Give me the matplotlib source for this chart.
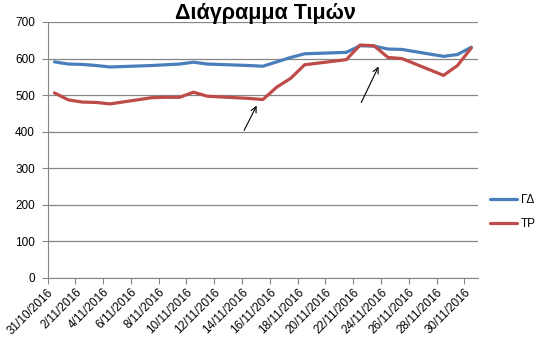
import matplotlib
matplotlib.use('Agg')
import matplotlib.pyplot as plt
import pandas as pd
import numpy as np

# εργάσιμες ημέρες (τα Σαββατοκύριακα λείπουν)
dates = ['31/10/2016', '1/11/2016', '2/11/2016', '3/11/2016', '4/11/2016',
         '7/11/2016', '8/11/2016', '9/11/2016', '10/11/2016', '11/11/2016',
         '14/11/2016', '15/11/2016', '16/11/2016', '17/11/2016', '18/11/2016',
         '21/11/2016', '22/11/2016', '23/11/2016', '24/11/2016', '25/11/2016',
         '28/11/2016', '29/11/2016', '30/11/2016']
gd = [591, 585, 584, 581, 577, 581, 583, 585, 590, 585, 581, 579,
      591, 603, 613, 617, 635, 634, 626, 625, 606, 611, 631]
tr = [506, 487, 481, 480, 476, 493, 494, 494, 508, 497, 491, 488,
      522, 546, 583, 597, 637, 635, 603, 600, 554, 581, 629]
series_names = ['ΓΔ', 'ΤΡ']
title = 'Διάγραμμα Τιμών'

plt.rcParams['font.family'] = ['Liberation Sans', 'DejaVu Sans']

d = pd.to_datetime(dates, format='%d/%m/%Y')
start = d[0]
x = np.array((d - start).days)
ndays = (d[-1] - start).days + 1

fig = plt.figure(figsize=(5.45, 3.54), dpi=100)
ax = fig.add_axes([0.0872, 0.2147, 0.7904, 0.7232])

ax.plot(x, gd, color='#4A7EBB', lw=2.3, label=series_names[0], solid_capstyle='round')
ax.plot(x, tr, color='#BE4B48', lw=2.3, label=series_names[1], solid_capstyle='round')

ax.set_xlim(-0.5, ndays - 0.5)
ax.set_ylim(0, 700)
ax.set_yticks(range(0, 701, 100))
ax.yaxis.grid(True, color='#868686', lw=0.9)
ax.set_axisbelow(True)

ticks = np.arange(-0.5, ndays - 0.5, 2)
labels = [(start + pd.Timedelta(days=int(t + 0.5))).strftime('%d/%m/%Y').lstrip('0').replace('/0', '/')
          for t in ticks]
ax.set_xticks(ticks)
ax.set_xticklabels(labels, rotation=45, ha='right', rotation_mode='anchor', fontsize=8.5)
ax.tick_params(axis='y', labelsize=8.5, length=4, color='#868686', pad=5)
ax.tick_params(axis='x', length=4, color='#868686', pad=2)

for s in ['top', 'right']:
    ax.spines[s].set_visible(False)
for s in ['left', 'bottom']:
    ax.spines[s].set_color('#868686')

# βέλη
arr = dict(arrowstyle='->', color='black', lw=0.8)
ax.annotate('', xy=(14.64, 478), xytext=(13.56, 397), arrowprops=arr)
ax.annotate('', xy=(23.41, 585), xytext=(21.99, 473), arrowprops=arr)

fig.text(0.487, 0.962, title, ha='center', va='center', fontsize=15.5, fontweight='bold')

ax.legend(loc='center left', bbox_to_anchor=(1.0, 0.258), frameon=False,
          fontsize=8.5, handlelength=2.3, labelspacing=1.0, handletextpad=0.3,
          borderaxespad=0.6)

plt.savefig('out.png', dpi=100)
